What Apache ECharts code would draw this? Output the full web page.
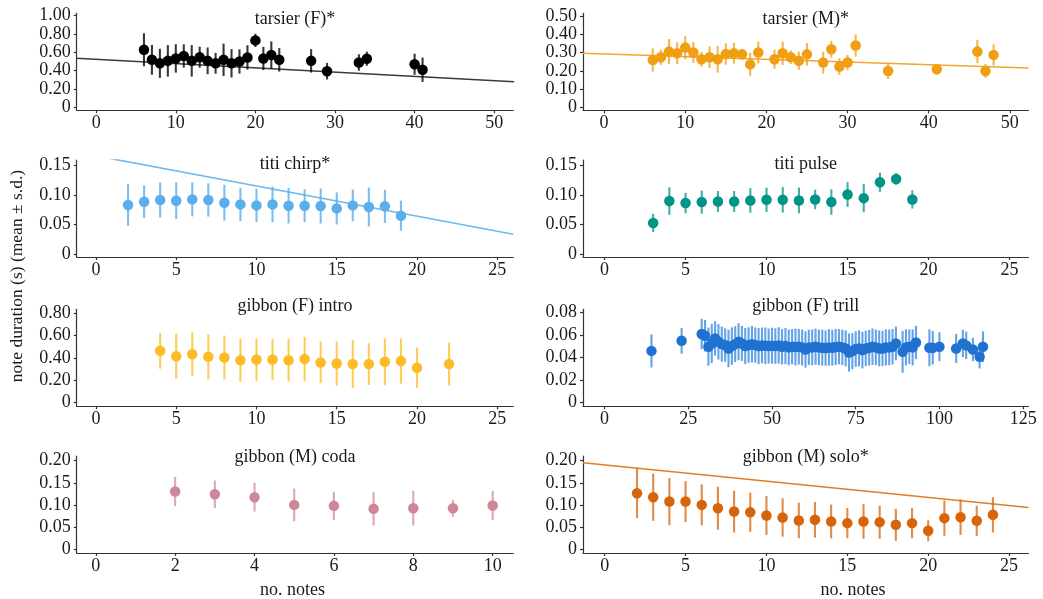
<!DOCTYPE html>
<html><head><meta charset="utf-8">
<script src="https://cdn.jsdelivr.net/npm/echarts@6/dist/echarts.min.js"></script>
<style>html,body{margin:0;padding:0;background:#fff}#c{width:1043px;height:599px}</style>
</head><body><div id="c"></div>
<script>
// ---------------- DATA ----------------
const panelTitles = ['tarsier (F)*','tarsier (M)*','titi chirp*','titi pulse','gibbon (F) intro','gibbon (F) trill','gibbon (M) coda','gibbon (M) solo*'];
const yAxisTitle = 'note duration (s) (mean \u00b1 s.d.)';
const xAxisTitle = 'no. notes';

const tarsierF_x = [6,7,8,9,10,11,12,13,14,15,16,17,18,19,20,21,22,23,27,29,33,34,40,41];
const tarsierF_mean = [0.628,0.518,0.48,0.507,0.533,0.56,0.507,0.547,0.507,0.48,0.518,0.48,0.5,0.544,0.73,0.533,0.57,0.518,0.507,0.394,0.489,0.53,0.47,0.41];
const tarsierF_sd = [0.18,0.163,0.159,0.172,0.155,0.127,0.172,0.115,0.146,0.113,0.177,0.155,0.132,0.133,0.072,0.127,0.149,0.128,0.128,0.09,0.09,0.077,0.115,0.133];
const tarsierF_fit = [[-2.5,0.535],[52.5,0.279]];

const tarsierM_x = [6,7,8,9,10,11,12,13,14,15,16,17,18,19,21,22,23,24,25,27,28,29,30,31,35,41,46,47,48];
const tarsierM_mean = [0.259,0.274,0.305,0.296,0.327,0.30,0.263,0.274,0.263,0.292,0.296,0.29,0.235,0.30,0.263,0.296,0.274,0.255,0.29,0.245,0.318,0.223,0.245,0.338,0.199,0.208,0.305,0.199,0.287];
const tarsierM_sd = [0.064,0.041,0.069,0.06,0.064,0.057,0.04,0.059,0.073,0.059,0.057,0.028,0.064,0.06,0.052,0.064,0.037,0.05,0.062,0.06,0.046,0.046,0.042,0.06,0.044,0.028,0.064,0.038,0.058];
const tarsierM_fit = [[-2.6,0.296],[52.3,0.215]];

const titiChirp_x = [2,3,4,5,6,7,8,9,10,11,12,13,14,15,16,17,18,19];
const titiChirp_mean = [0.0832,0.0889,0.0917,0.0906,0.0928,0.0917,0.0872,0.0843,0.0826,0.0843,0.0821,0.0821,0.0815,0.0775,0.0826,0.0798,0.081,0.0651];
const titiChirp_sd = [0.0354,0.0277,0.0297,0.0312,0.0289,0.0283,0.0305,0.0283,0.0283,0.0303,0.0303,0.028,0.0298,0.0272,0.0269,0.0331,0.0283,0.0255];
const titiChirp_fit = [[-1.2,0.173],[26.0,0.0335]];

const titiPulse_x = [3,4,5,6,7,8,9,10,11,12,13,14,15,16,17,18,19];
const titiPulse_mean = [0.0528,0.0899,0.0865,0.0882,0.0893,0.0893,0.091,0.0921,0.0921,0.091,0.0927,0.0882,0.1011,0.0949,0.1219,0.1275,0.0927];
const titiPulse_sd = [0.0155,0.0233,0.0175,0.0197,0.0177,0.0177,0.0208,0.0206,0.0217,0.0217,0.0166,0.0217,0.021,0.0239,0.0163,0.0101,0.0155];

const gibbonFIntro_x = [4,5,6,7,8,9,10,11,12,13,14,15,16,17,18,19,20,22];
const gibbonFIntro_mean = [0.464,0.416,0.434,0.41,0.404,0.38,0.386,0.386,0.38,0.39,0.36,0.35,0.345,0.345,0.366,0.372,0.312,0.345];
const gibbonFIntro_sd = [0.16,0.202,0.195,0.202,0.197,0.195,0.19,0.185,0.192,0.199,0.187,0.198,0.214,0.187,0.21,0.202,0.181,0.192];

const gibbonFTrill_x = [14,23,29,30,31,32,33,34,35,36,37,38,39,40,41,42,43,44,45,46,47,48,49,50,51,52,53,54,55,56,57,58,59,60,61,62,63,64,65,66,67,68,69,70,71,72,73,74,75,76,77,78,79,80,81,82,83,84,85,86,87,89,90,91,92,93,97,98,100,105,107,108,110,112,113];
const gibbonFTrill_mean = [0.046,0.055,0.061,0.0595,0.0497,0.0526,0.0571,0.0541,0.052,0.0512,0.0482,0.0503,0.052,0.0541,0.0526,0.0503,0.0512,0.052,0.0512,0.0503,0.0509,0.0506,0.0503,0.0506,0.0503,0.0509,0.0497,0.0503,0.0491,0.0497,0.0494,0.0497,0.0491,0.0473,0.0491,0.0491,0.0497,0.0491,0.0488,0.0485,0.0491,0.0488,0.0494,0.0497,0.0491,0.0482,0.0446,0.0458,0.0476,0.0482,0.0467,0.0482,0.0488,0.0497,0.0491,0.0482,0.0482,0.0491,0.0491,0.0497,0.0526,0.0452,0.0491,0.0497,0.0491,0.0535,0.0488,0.0488,0.0497,0.0482,0.0526,0.0509,0.0473,0.0407,0.0497];
const gibbonFTrill_sd = [0.0147,0.0115,0.0135,0.014,0.017,0.0175,0.0153,0.0157,0.0156,0.0149,0.0167,0.0167,0.016,0.0164,0.0155,0.016,0.0158,0.0162,0.0157,0.0161,0.0159,0.0163,0.0156,0.016,0.0158,0.0162,0.0157,0.0161,0.0159,0.0156,0.0163,0.0158,0.016,0.0162,0.0157,0.0159,0.0161,0.0158,0.016,0.0157,0.0162,0.0159,0.0161,0.0156,0.0158,0.016,0.017,0.016,0.0158,0.0161,0.0163,0.0157,0.0159,0.0162,0.0158,0.016,0.0157,0.0161,0.0159,0.0158,0.015,0.0186,0.016,0.0155,0.016,0.0149,0.0164,0.0149,0.0129,0.0129,0.0122,0.0122,0.0104,0.0104,0.0137];

const gibbonMCoda_x = [2,3,4,5,6,7,8,9,10];
const gibbonMCoda_mean = [0.1306,0.1246,0.118,0.1007,0.0985,0.0918,0.0933,0.0933,0.0993];
const gibbonMCoda_sd = [0.033,0.031,0.0325,0.0366,0.0317,0.0373,0.039,0.0187,0.0325];

const gibbonMSolo_x = [2,3,4,5,6,7,8,9,10,11,12,13,14,15,16,17,18,19,20,21,22,23,24];
const gibbonMSolo_mean = [0.1269,0.1179,0.1082,0.1082,0.1007,0.0933,0.0858,0.0843,0.0769,0.0724,0.0657,0.0672,0.0634,0.0597,0.0634,0.0619,0.056,0.0597,0.0425,0.0709,0.0731,0.0649,0.0784];
const gibbonMSolo_sd = [0.056,0.053,0.053,0.046,0.046,0.0485,0.047,0.044,0.0437,0.043,0.04,0.04,0.038,0.034,0.039,0.037,0.036,0.034,0.0235,0.0396,0.04,0.034,0.0396];
const gibbonMSolo_fit = [[-1.34,0.1955],[26.2,0.0948]];

// tick values
const ticksX_50 = [0,10,20,30,40,50];
const ticksX_25 = [0,5,10,15,20,25];
const ticksX_125 = [0,25,50,75,100,125];
const ticksX_10 = [0,2,4,6,8,10];
const ticksY_tarsierF = [0,0.2,0.4,0.6,0.8,1.0];
const ticksY_tarsierM = [0,0.1,0.2,0.3,0.4,0.5];
const ticksY_titi = [0,0.05,0.1,0.15];
const ticksY_intro = [0,0.2,0.4,0.6,0.8];
const ticksY_trill = [0,0.02,0.04,0.06,0.08];
const ticksY_gibbonM = [0,0.05,0.1,0.15,0.2];

// ---------------- LAYOUT ----------------
const LX = 76.7, LW = 436.6, RX = 583, RW = 445.5, H = 97;
const rowTop = [13.3, 160, 309.3, 456];
const panels = [
  {x:tarsierF_x, m:tarsierF_mean, s:tarsierF_sd, fit:tarsierF_fit, col:'#000000', bar:'rgba(0,0,0,0.78)', line:'#3a3a3a', left:LX, w:LW, row:0, xr:[-2.45,52.4], yr:[-0.033,1.026], xt:ticksX_50, yt:ticksY_tarsierF},
  {x:tarsierM_x, m:tarsierM_mean, s:tarsierM_sd, fit:tarsierM_fit, col:'#F09E12', bar:'rgba(240,158,18,0.75)', line:'#F2A530', left:RX, w:RW, row:0, xr:[-2.6,52.3], yr:[-0.0164,0.5148], xt:ticksX_50, yt:ticksY_tarsierM},
  {x:titiChirp_x, m:titiChirp_mean, s:titiChirp_sd, fit:titiChirp_fit, col:'#5AAEEB', bar:'rgba(90,174,235,0.8)', line:'#6DB8F0', left:LX, w:LW, row:1, xr:[-1.2,26.0], yr:[-0.0051,0.1597], xt:ticksX_25, yt:ticksY_titi},
  {x:titiPulse_x, m:titiPulse_mean, s:titiPulse_sd, fit:null, col:'#009487', bar:'rgba(0,148,135,0.75)', left:RX, w:RW, row:1, xr:[-1.33,26.17], yr:[-0.0051,0.1597], xt:ticksX_25, yt:ticksY_titi},
  {x:gibbonFIntro_x, m:gibbonFIntro_mean, s:gibbonFIntro_sd, fit:null, col:'#FBBC26', bar:'rgba(251,188,38,0.75)', left:LX, w:LW, row:2, xr:[-1.2,26.0], yr:[-0.033,0.836], xt:ticksX_25, yt:ticksY_intro},
  {x:gibbonFTrill_x, m:gibbonFTrill_mean, s:gibbonFTrill_sd, fit:null, col:'#1F72D0', bar:'rgba(60,140,225,0.8)', left:RX, w:RW, row:2, xr:[-6.45,126.6], yr:[-0.0033,0.083], xt:ticksX_125, yt:ticksY_trill},
  {x:gibbonMCoda_x, m:gibbonMCoda_mean, s:gibbonMCoda_sd, fit:null, col:'#CD8797', bar:'rgba(205,135,151,0.72)', left:LX, w:LW, row:3, xr:[-0.48,10.52], yr:[-0.0074,0.2105], xt:ticksX_10, yt:ticksY_gibbonM},
  {x:gibbonMSolo_x, m:gibbonMSolo_mean, s:gibbonMSolo_sd, fit:gibbonMSolo_fit, col:'#D6640B', bar:'rgba(214,100,11,0.75)', line:'#E07E26', left:RX, w:RW, row:3, xr:[-1.34,26.2], yr:[-0.0074,0.2105], xt:ticksX_25, yt:ticksY_gibbonM}
];
const titleCY = [20, 165, 307.5, 458.5];

const FONT = 'Liberation Serif';
const TXT = '#1a1a1a';
const AX = '#333333';

const grid = [], xAxis = [], yAxis = [], series = [], title = [];
panels.forEach((p, i) => {
  const top = rowTop[p.row];
  grid.push({left:p.left, top:top, width:p.w, height:H, containLabel:false});
  xAxis.push({
    gridIndex:i, type:'value', min:p.xr[0], max:p.xr[1],
    splitLine:{show:false},
    axisLine:{show:true, onZero:false, lineStyle:{color:AX, width:1.2}},
    axisTick:{show:true, length:3, customValues:p.xt, lineStyle:{color:AX, width:1.2}},
    axisLabel:{customValues:p.xt, margin:4, fontFamily:FONT, fontSize:18, color:TXT, formatter:v=>String(Math.round(v))}
  });
  yAxis.push({
    gridIndex:i, type:'value', min:p.yr[0], max:p.yr[1],
    splitLine:{show:false},
    axisLine:{show:true, onZero:false, lineStyle:{color:AX, width:1.2}},
    axisTick:{show:true, length:3, customValues:p.yt, lineStyle:{color:AX, width:1.2}},
    axisLabel:{customValues:p.yt, margin:6, fontFamily:FONT, fontSize:18, color:TXT, formatter:v=>(Math.abs(v)<1e-9?'0':v.toFixed(2))}
  });
  title.push({text:panelTitles[i], left:p.left + p.w/2, top:titleCY[p.row]-10, textAlign:'center', padding:0,
    textStyle:{fontFamily:FONT, fontSize:18, fontWeight:'normal', color:TXT}});
  if (p.fit) {
    series.push({type:'line', xAxisIndex:i, yAxisIndex:i, data:p.fit, symbol:'none', clip:true, silent:true, z:1,
      lineStyle:{color:p.line, width:1.6}});
  }
  const barData = p.x.map((x,k)=>[x, p.m[k]-p.s[k], p.m[k]+p.s[k]]);
  const barColor = p.bar;
  series.push({type:'custom', xAxisIndex:i, yAxisIndex:i, data:barData, encode:{x:0, y:[1,2]}, z:2, silent:true,
    renderItem:(params, api)=>{
      const a = api.coord([api.value(0), api.value(1)]);
      const b = api.coord([api.value(0), api.value(2)]);
      return {type:'line', shape:{x1:a[0], y1:a[1], x2:b[0], y2:b[1]}, style:{stroke:barColor, lineWidth:2.1}};
    }});
  series.push({type:'scatter', xAxisIndex:i, yAxisIndex:i, data:p.x.map((x,k)=>[x, p.m[k]]), symbol:'circle', symbolSize:10.5, z:3, silent:true,
    itemStyle:{color:p.col, opacity:1}});
});

const chart = echarts.init(document.getElementById('c'), null, {renderer:'canvas'});
chart.setOption({
  backgroundColor:'#ffffff',
  animation:false,
  title:title, grid:grid, xAxis:xAxis, yAxis:yAxis, series:series,
  graphic:[
    {type:'text', x:17, y:276, rotation:Math.PI/2, style:{text:yAxisTitle, fontFamily:FONT, fontSize:17.5, fill:TXT, align:'center', verticalAlign:'middle'}},
    {type:'text', x:292.5, y:590, style:{text:xAxisTitle, fontFamily:FONT, fontSize:18, fill:TXT, align:'center', verticalAlign:'middle'}},
    {type:'text', x:853, y:590, style:{text:xAxisTitle, fontFamily:FONT, fontSize:18, fill:TXT, align:'center', verticalAlign:'middle'}}
  ]
});
</script></body></html>
